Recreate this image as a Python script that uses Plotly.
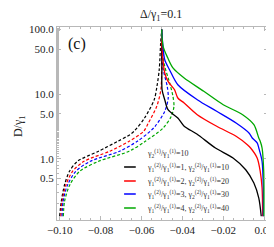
import plotly.graph_objects as go

# ---- data (x = horizontal value, D = D/gamma1) ----
black_dash_x = [-0.1000, -0.0992, -0.0976, -0.0952, -0.0913, -0.0810, -0.0715, -0.0657, -0.0636, -0.0585, -0.0538, -0.0524, -0.0513, -0.0506, -0.0501]
black_dash_D = [0.129, 0.220, 0.397, 0.640, 0.915, 1.31, 1.87, 2.36, 2.67, 4.28, 8.13, 13.3, 23.9, 62.1, 100]

red_dash_x = [-0.0994, -0.0988, -0.0969, -0.0937, -0.0881, -0.0755, -0.0660, -0.0589, -0.0566, -0.0525, -0.0505, -0.0501, -0.0502, -0.0501]
red_dash_D = [0.129, 0.220, 0.397, 0.640, 0.915, 1.31, 1.87, 2.67, 3.58, 6.50, 11.7, 21.3, 48.9, 100]

blue_dash_x = [-0.0988, -0.0983, -0.0961, -0.0921, -0.0850, -0.0707, -0.0620, -0.0557, -0.0533, -0.0486, -0.0469, -0.0474, -0.0493, -0.0501, -0.0501]
blue_dash_D = [0.129, 0.220, 0.397, 0.640, 0.915, 1.31, 1.87, 2.67, 3.19, 5.44, 8.73, 13.3, 23.9, 48.9, 100]

green_dash_x = [-0.0982, -0.0976, -0.0950, -0.0902, -0.0810, -0.0660, -0.0581, -0.0494, -0.0454, -0.0441, -0.0446, -0.0462, -0.0486, -0.0498, -0.0501]
green_dash_D = [0.129, 0.220, 0.397, 0.640, 0.915, 1.31, 1.87, 3.00, 4.55, 6.50, 9.28, 14.9, 27.0, 48.9, 100]

black_solid_x = [-0.0501, -0.0500, -0.0499, -0.0486, -0.0470, -0.0422, -0.0391, -0.0329, -0.0238, -0.0152, -0.0090, -0.0050, -0.0026, -0.0014]
black_solid_D = [100, 27.0, 11.7, 8.22, 5.75, 4.28, 3.19, 2.42, 1.47, 1.03, 0.678, 0.422, 0.247, 0.129]

red_solid_x = [-0.0501, -0.0499, -0.0486, -0.0470, -0.0438, -0.0422, -0.0391, -0.0327, -0.0232, -0.0137, -0.0082, -0.0066, -0.0034, -0.0019, -0.0010, -0.0007]
red_solid_D = [100, 52.0, 21.3, 15.8, 11.7, 8.73, 7.31, 4.82, 3.19, 2.23, 1.65, 1.47, 1.03, 0.640, 0.353, 0.129]

blue_solid_x = [-0.0501, -0.0495, -0.0486, -0.0462, -0.0422, -0.0327, -0.0232, -0.0137, -0.0074, -0.0058, -0.0034, -0.0026, -0.0010, -0.0004, -0.0004]
blue_solid_D = [100, 55.7, 34.2, 23.7, 14.0, 8.22, 5.44, 3.58, 2.51, 2.10, 1.76, 1.47, 0.915, 0.353, 0.129]

green_solid_x = [-0.0501, -0.0494, -0.0471, -0.0446, -0.0391, -0.0295, -0.0200, -0.0105, -0.0050, -0.0026, -0.0019, -0.0010, -0.0002, -0.0001]
green_solid_D = [100, 55.1, 36.3, 25.5, 17.8, 11.1, 6.88, 4.82, 3.37, 2.10, 1.87, 1.47, 0.640, 0.129]

x_ticks = [-0.10, -0.08, -0.06, -0.04, -0.02, 0.00]
y_ticks = [0.5, 1.0, 5.0, 10.0, 50.0, 100.0]
y_ticktext = ["0.5", "1.0", "5.0", "10.0", "50.0", "100.0"]

legend_header = "γ<sub>2</sub><sup>(1)</sup>/γ<sub>1</sub><sup>(1)</sup>=10"
legend_labels = [
    "γ<sub>1</sub><sup>(2)</sup>/γ<sub>1</sub><sup>(1)</sup>=1, γ<sub>2</sub><sup>(2)</sup>/γ<sub>1</sub><sup>(1)</sup>=10",
    "γ<sub>1</sub><sup>(2)</sup>/γ<sub>1</sub><sup>(1)</sup>=2, γ<sub>2</sub><sup>(2)</sup>/γ<sub>1</sub><sup>(1)</sup>=20",
    "γ<sub>1</sub><sup>(2)</sup>/γ<sub>1</sub><sup>(1)</sup>=3, γ<sub>2</sub><sup>(2)</sup>/γ<sub>1</sub><sup>(1)</sup>=30",
    "γ<sub>1</sub><sup>(2)</sup>/γ<sub>1</sub><sup>(1)</sup>=4, γ<sub>2</sub><sup>(2)</sup>/γ<sub>1</sub><sup>(1)</sup>=40",
]
colors = ["#000000", "#ff0000", "#0000ff", "#00a800"]

solid = [(black_solid_x, black_solid_D), (red_solid_x, red_solid_D),
         (blue_solid_x, blue_solid_D), (green_solid_x, green_solid_D)]
dashed = [(black_dash_x, black_dash_D), (red_dash_x, red_dash_D),
          (blue_dash_x, blue_dash_D), (green_dash_x, green_dash_D)]

fig = go.Figure()
for (xs, ys), c in zip(dashed, colors):
    fig.add_trace(go.Scatter(x=xs, y=ys, mode="lines", showlegend=False,
                             line=dict(color=c, width=1.2, dash="3px,2px", shape="spline", smoothing=0.8)))
for (xs, ys), c in zip(solid, colors):
    fig.add_trace(go.Scatter(x=xs, y=ys, mode="lines", showlegend=False,
                             line=dict(color=c, width=1.3, shape="spline", smoothing=0.8)))

W, H = 274, 247
L, R, T, B = 49, 8, 19, 35
pw, ph = W - L - R, H - T - B

def px(xp):
    return (xp - L) / pw

def py(yp):
    return 1 - (yp - T) / ph

serif = "Liberation Serif, Times New Roman, serif"
axis_common = dict(showline=True, linecolor="#b8b8b8", linewidth=1, mirror="ticks",
                   ticks="inside", tickcolor="#b8b8b8", ticklen=4, showgrid=False, zeroline=False,
                   tickfont=dict(family=serif, size=11, color="#222"))

fig.update_layout(
    width=W, height=H, margin=dict(l=L, r=R, t=T, b=B),
    plot_bgcolor="white", paper_bgcolor="white",
    xaxis=dict(range=[-0.1013, 0.0019], tickvals=x_ticks, tickformat=".2f",
               minor=dict(dtick=0.005, tick0=0, ticks="inside", ticklen=2, tickcolor="#b8b8b8"),
               **axis_common),
    yaxis=dict(type="log", range=[-0.947, 2.040], tickvals=y_ticks, ticktext=y_ticktext,
               minor=dict(ticks="inside", ticklen=2, tickcolor="#b8b8b8"),
               **axis_common),
    font=dict(family=serif, color="#222"),
)

annotations = [
    dict(text="Δ/γ<sub>1</sub>=0.1", x=px(156), y=py(7), xref="paper", yref="paper",
         showarrow=False, font=dict(family=serif, size=12, color="#222"), xanchor="center", yanchor="middle"),
    dict(text="D/γ<sub>1</sub>", x=px(10), y=py(118), xref="paper", yref="paper", textangle=-90,
         showarrow=False, font=dict(family=serif, size=12, color="#222"), xanchor="center", yanchor="middle"),
    dict(text="(c)", x=px(70), y=py(36), xref="paper", yref="paper",
         showarrow=False, font=dict(family=serif, size=16, color="#111"), xanchor="center", yanchor="middle"),
    dict(text=legend_header, x=px(140), y=py(145), xref="paper", yref="paper",
         showarrow=False, font=dict(family=serif, size=8, color="#333"), xanchor="left", yanchor="middle"),
]
shapes = []
leg_y = [159, 173, 186, 200]
for lab, c, yy in zip(legend_labels, colors, leg_y):
    annotations.append(dict(text=lab, x=px(140), y=py(yy), xref="paper", yref="paper",
                            showarrow=False, font=dict(family=serif, size=8, color="#333"),
                            xanchor="left", yanchor="middle"))
    shapes.append(dict(type="line", xref="paper", yref="paper", x0=px(118), x1=px(130),
                       y0=py(yy), y1=py(yy), line=dict(color=c, width=1.5)))
fig.update_layout(annotations=annotations, shapes=shapes)

fig.write_html("out.html")
